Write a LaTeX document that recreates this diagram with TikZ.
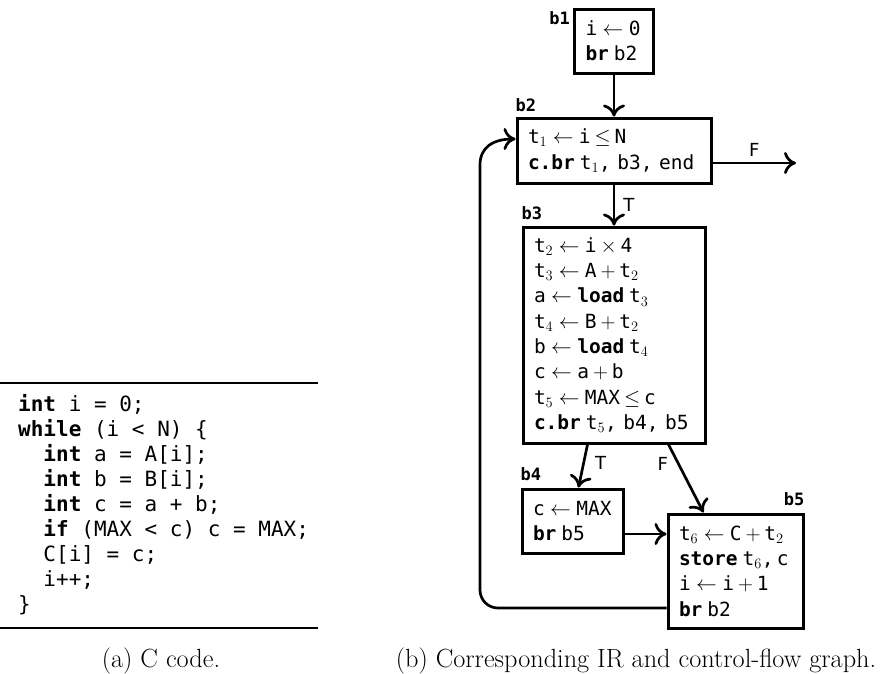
\documentclass[tikz,border=0pt]{standalone}
\usepackage{fontspec}
\setmonofont{DejaVu Sans Mono}
\newfontfamily\edgesans{DejaVu Sans}
\usetikzlibrary{arrows.meta,calc}
\newcommand{\Lar}{\nobreak\hspace{0.28em}$\leftarrow$\nobreak\hspace{0.28em}\nobreak}
\newcommand{\Op}[1]{\nobreak\hspace{0.2em}$#1$\nobreak\hspace{0.2em}\nobreak}
\newcommand{\ts}[1]{t$_{#1}$}
\newcommand{\kw}[1]{\textbf{#1}\nobreak\hspace{0.25em}\nobreak}
\newcommand{\irfont}{\ttfamily\fontsize{19.5}{25.3}\selectfont}
\begin{document}
\begin{tikzpicture}[x=1pt,y=-1pt,
  box/.style={draw, line width=3pt, inner xsep=11pt, inner ysep=0pt, align=left, font=\irfont, anchor=center},
  lbl/.style={inner sep=0pt, font=\ttfamily\bfseries\fontsize{17}{20}\selectfont},
  elbl/.style={inner sep=0pt, font=\edgesans\fontsize{18}{21}\selectfont},
  arr/.style={line width=2.7pt, -{Computer Modern Rightarrow[length=12pt,width=22pt]}},
  codeline/.style={inner sep=0pt, font=\ttfamily\fontsize{21}{25}\selectfont},
  captext/.style={inner sep=0pt, font=\fontsize{26.3}{31}\selectfont}]
\useasboundingbox (0,0) rectangle (884,673);

% ---- C code ----
\draw[line width=2pt] (0,383) -- (318,383);
\draw[line width=2pt] (0,628) -- (318,628);
\foreach [count=\i] \ln in {
  {\textbf{int} i = 0;},
  {\textbf{while} (i < N) \{},
  {\hphantom{xx}\textbf{int} a = A[i];},
  {\hphantom{xx}\textbf{int} b = B[i];},
  {\hphantom{xx}\textbf{int} c = a + b;},
  {\hphantom{xx}\textbf{if} (MAX < c) c = MAX;},
  {\hphantom{xx}C[i] = c;},
  {\hphantom{xx}i++;},
  {\}}}
  \node[codeline, anchor=base west] (c\i) at (18,{411+25*(\i-1)}) {\ln};

\node[captext, anchor=base] (capa) at (161,667) {(a) C code.};
\node[captext, anchor=base] (capb) at (636,667) {(b) Corresponding IR and control-flow graph.};

% ---- CFG ----
\node[box, text width=57pt, minimum height=64pt] (b1) at (614,41) {i\Lar 0\\\kw{br}b2};
\node[box, text width=172pt, minimum height=65pt] (b2) at (614,150.5) {\ts1\Lar i\Op{\le}N\\\kw{c.br}\ts1, b3, end};
\node[box, text width=160pt, minimum height=216pt] (b3) at (614,335) {\ts2\Lar i\Op{\times}4\\
\ts3\Lar A\Op{+}\ts2\\
a\Lar\kw{load}\ts3\\
\ts4\Lar B\Op{+}\ts2\\
b\Lar\kw{load}\ts4\\
c\Lar a\Op{+}b\\
\ts5\Lar MAX\Op{\le}c\\
\kw{c.br}\ts5, b4, b5};
\node[box, text width=79pt, minimum height=64pt] (b4) at (572.5,521) {c\Lar MAX\\\kw{br}b5};
\node[box, text width=113pt, minimum height=114pt] (b5) at (735.5,571) {\ts6\Lar C\Op{+}\ts2\\\kw{store}\ts6,\,c\\i\Lar i\Op{+}1\\\kw{br}b2};

\node[lbl, anchor=base east] (l1) at ($(b1.north west)+(-3,17)$) {b1};
\node[lbl, anchor=base west] (l2) at ($(b2.north west)+(0,-5)$) {b2};
\node[lbl, anchor=base west] (l3) at ($(b3.north west)+(0,-6)$) {b3};
\node[lbl, anchor=base west] (l4) at ($(b4.north west)+(0,-7)$) {b4};
\node[lbl, anchor=base east] (l5) at ($(b5.north east)+(0,-7)$) {b5};

\coordinate (fend) at (796,163);
\coordinate (hy) at (0,534);
\coordinate (ly) at (0,608);
\coordinate (ty) at (0,139);

\draw[arr] (b1.south) -- (b2.north);
\draw[arr] (b2.south) -- node[elbl, midway, anchor=west, xshift=8pt] {T} (b3.north);
\draw[arr] (b2.east |- fend) -- node[elbl, midway, anchor=south, yshift=5pt] {F} (fend);
\draw[arr] ($(b3.south west)+(66,0)$) -- node[elbl, pos=0.42, anchor=west, xshift=10pt] {T} ($(b4.north west)+(58,0)$);
\draw[arr] ($(b3.south west)+(147,0)$) -- node[elbl, pos=0.28, anchor=east, xshift=-9pt] {F} ($(b5.north west)+(37,0)$);
\draw[arr] (b4.east |- hy) -- (b5.west |- hy);
\draw[arr] (b5.west |- ly) -- (498,608) .. controls (488,608) and (480,600) .. (480,590) -- (480,165) .. controls (480,148) and (492,139) .. (b2.west |- ty);
\end{tikzpicture}
\end{document}
